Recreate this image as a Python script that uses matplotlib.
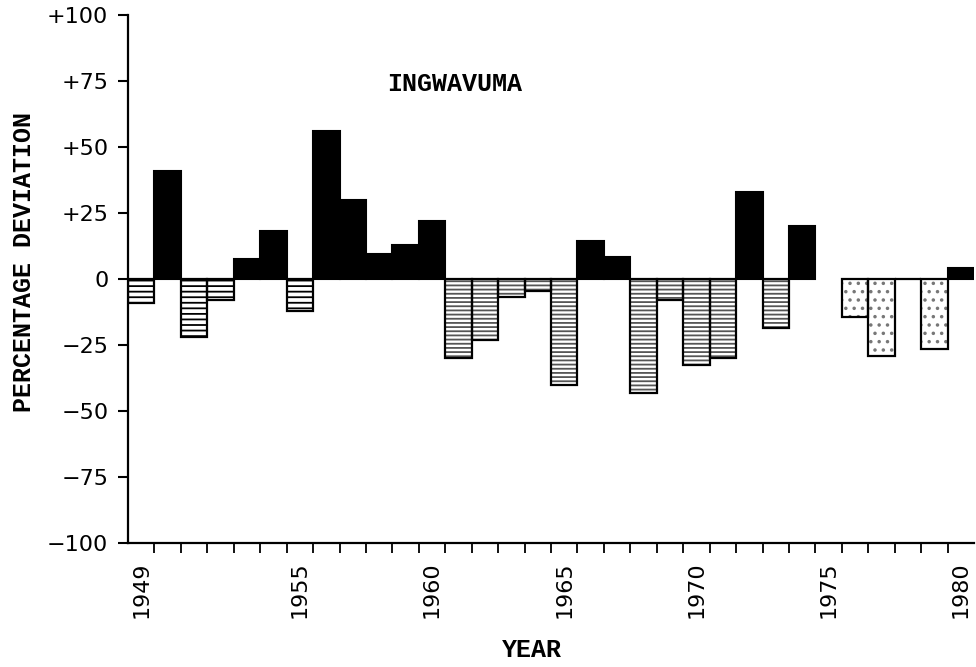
import numpy as np
import matplotlib
matplotlib.use("Agg")
import matplotlib.pyplot as plt

# ---- data (percentage deviation of annual rainfall, INGWAVUMA) ----
years = list(range(1949, 1981))
deviation = [
    -9, 41, -22, -8, 7.5, 18, -12,          # 1949-1955
    56, 30, 9.5, 13, 22,                    # 1956-1960
    -30, -23, -7, -4.5, -40,                # 1961-1965
    14.5, 8.5, -43, -8, -32.5, -30,         # 1966-1971
    33, -18.5, 20,                          # 1972-1974
    np.nan, -14.5, -29, 0, -26.5, 4,        # 1975-1980
]
ytick_values = [-100, -75, -50, -25, 0, 25, 50, 75, 100]
ytick_labels = ["\u2212100", "\u221275", "\u221250", "\u221225", "0",
                "+25", "+50", "+75", "+100"]
xlabel_years = [1949, 1955, 1960, 1965, 1970, 1975, 1980]
title_text = "INGWAVUMA"
ylabel_text = "PERCENTAGE DEVIATION"
xlabel_text = "YEAR"

plt.rcParams["hatch.linewidth"] = 1.3

W, H = 976, 667
fig = plt.figure(figsize=(W / 100, H / 100), dpi=100)
ax = fig.add_axes([128 / W, 124 / H, 846 / W, 528 / H])

mono = "Liberation Mono"
sans = "DejaVu Sans"


def neg_style(year):
    if year <= 1955:
        return "---", "black"
    if year <= 1973:
        return "----", "#555555"
    return "..", "#777777"


yrs = np.array(years)
vals = np.array(deviation, dtype=float)

for y, v in zip(yrs, vals):
    if np.isnan(v):
        continue
    if v > 0:
        ax.bar(y, v, width=1.0, color="black", edgecolor="black",
               linewidth=1.5, zorder=3)
    else:
        hatch, hcol = neg_style(y)
        # hatch layer
        ax.bar(y, v, width=1.0, color="white", edgecolor=hcol,
               linewidth=0, hatch=hatch, zorder=2)
        # outline
        ax.bar(y, v, width=1.0, fill=False, edgecolor="black",
               linewidth=1.6, zorder=3)

ax.set_xlim(1948.5, 1980.5)
ax.set_ylim(-100, 100)

for s in ["top", "right"]:
    ax.spines[s].set_visible(False)
for s in ["left", "bottom"]:
    ax.spines[s].set_linewidth(1.6)

ax.set_yticks(ytick_values)
ax.set_yticklabels(ytick_labels, fontsize=16, family=sans)
ax.tick_params(axis="y", direction="out", length=7.2, width=1.5, pad=7)

# major ticks at boundaries between years, minor ticks carry labels
ax.set_xticks(np.arange(years[0] + 0.5, years[-1], 1.0))
ax.set_xticklabels([])
ax.tick_params(axis="x", which="major", direction="out", length=7.2,
               width=1.3)
ax.set_xticks(xlabel_years, minor=True)
ax.set_xticklabels([str(y) for y in xlabel_years], minor=True,
                   rotation=90, fontsize=16, family=sans)
ax.tick_params(axis="x", which="minor", length=0, pad=13.5)

ax.text((455 - 128) / 846, (543 - 84) / 528, title_text,
        transform=ax.transAxes, ha="center", va="center",
        family=mono, fontsize=18, fontweight="bold")

ax.set_ylabel(ylabel_text, family=mono, fontsize=18, fontweight="bold",
              va="center")
ax.yaxis.set_label_coords((24 - 128) / 846, (543 - 262) / 528)
ax.set_xlabel(xlabel_text, family=mono, fontsize=18, fontweight="bold",
              va="center")
ax.xaxis.set_label_coords((532 - 128) / 846, -(650 - 543) / 528)

fig.savefig("out.png", dpi=100)
